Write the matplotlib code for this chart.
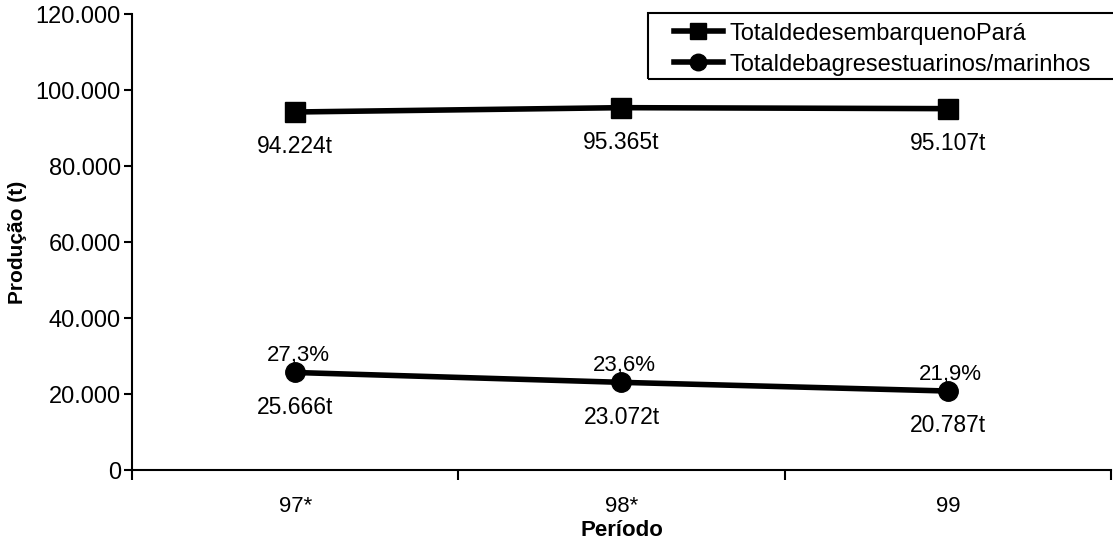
import matplotlib
matplotlib.use("Agg")
import matplotlib.pyplot as plt
from matplotlib.patches import Rectangle
from matplotlib.ticker import FuncFormatter, FixedLocator

plt.rcParams["font.family"] = ["Liberation Sans", "DejaVu Sans"]

# Production data (tonnes) per period
periodos = ["97*", "98*", "99"]
total_desembarque = [94224, 95365, 95107]
total_bagres = [25666, 23072, 20787]
percentual_bagres = ["27,3%", "23,6%", "21,9%"]

W, H = 1113, 545
fig = plt.figure(figsize=(W / 100, H / 100), dpi=100)
ax = fig.add_axes([0.1186, 0.1376, 0.8796, 0.8366])

x = list(range(len(periodos)))
ax.plot(x, total_desembarque, color="black", linewidth=4, marker="s",
        markersize=14, label="TotaldedesembarquenoPará")
ax.plot(x, total_bagres, color="black", linewidth=4, marker="o",
        markersize=14, label="Totaldebagresestuarinos/marinhos")

def fmt_t(v):
    return f"{v:,}".replace(",", ".") + "t"

for xi, v in zip(x, total_desembarque):
    ax.annotate(fmt_t(v), (xi, v), xytext=(0, -25), textcoords="offset points",
                ha="center", va="center", fontsize=16.5)
for xi, v, p in zip(x, total_bagres, percentual_bagres):
    ax.annotate(fmt_t(v), (xi, v), xytext=(0, -25), textcoords="offset points",
                ha="center", va="center", fontsize=16.5)
    ax.annotate(p, (xi, v), xytext=(2, 12), textcoords="offset points",
                ha="center", va="center", fontsize=16)

ax.set_xlim(-0.5, 2.5)
ax.set_ylim(0, 120000)
ax.set_yticks(range(0, 120001, 20000))
ax.yaxis.set_major_formatter(FuncFormatter(lambda v, _: f"{int(v):,}".replace(",", ".")))

ax.set_xticks(x)
ax.set_xticklabels(periodos)
ax.xaxis.set_minor_locator(FixedLocator([-0.5, 0.5, 1.5, 2.5]))
ax.tick_params(axis="x", which="major", length=0, pad=19, labelsize=16)
ax.tick_params(axis="x", which="minor", length=7, width=1.5, direction="out")
ax.tick_params(axis="y", length=6, width=1.5, direction="out", labelsize=17, pad=2)

for side in ["top", "right"]:
    ax.spines[side].set_visible(False)
for side in ["left", "bottom"]:
    ax.spines[side].set_linewidth(1.5)

ax.set_xlabel("Período", fontsize=16, fontweight="bold", labelpad=2)
ax.set_ylabel("Produção (t)", fontsize=15, fontweight="bold", labelpad=6)

# legend entries without frame; the box is drawn separately and runs off the right edge
fig.legend(loc="upper left", bbox_to_anchor=(669 / W, 1 - 18 / H),
           fontsize=17, frameon=False, handlelength=2.08, handletextpad=0.3,
           borderpad=0.2, borderaxespad=0, labelspacing=0.38, markerscale=0.85)
fig.add_artist(Rectangle((648 / W, 1 - 79 / H), (1125 - 648) / W, 66 / H,
                         transform=fig.transFigure, fill=False,
                         edgecolor="black", linewidth=1.5))

fig.savefig("out.png", dpi=100)
